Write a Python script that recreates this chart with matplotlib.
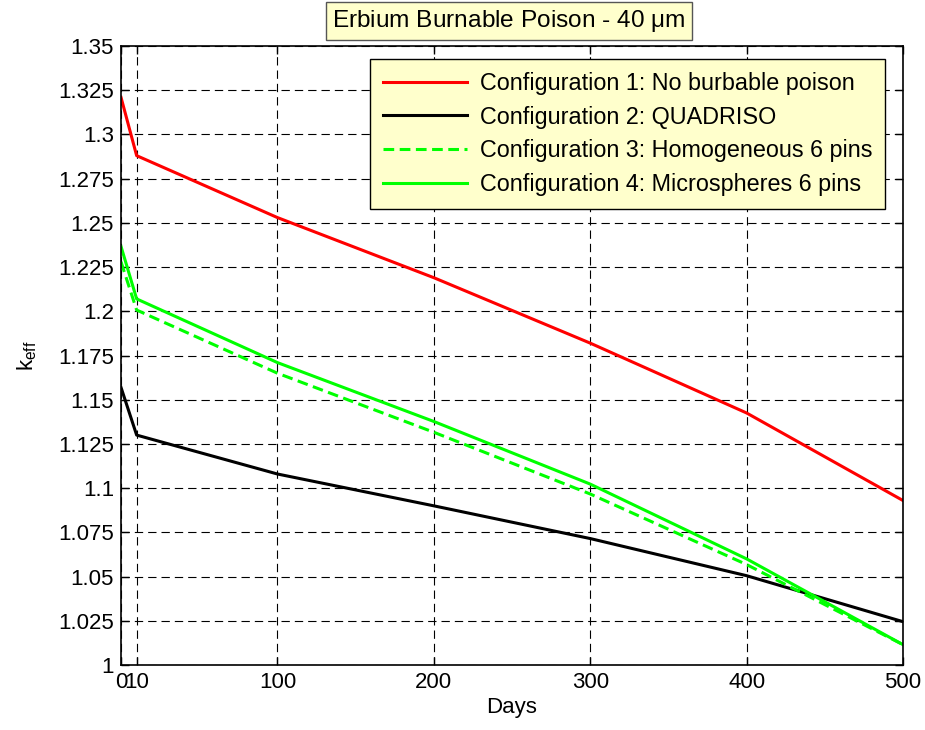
import matplotlib
matplotlib.use("Agg")
import matplotlib.pyplot as plt
from matplotlib.ticker import FixedLocator, FixedFormatter

plt.rcParams['font.family'] = ['Liberation Sans', 'DejaVu Sans']
plt.rcParams['mathtext.fontset'] = 'custom'
plt.rcParams['mathtext.rm'] = 'Liberation Sans'
plt.rcParams['mathtext.it'] = 'Liberation Sans'

days = [0, 10, 100, 200, 300, 400, 500]
config1 = [1.321, 1.288, 1.253, 1.219, 1.182, 1.1425, 1.093]
config2 = [1.157, 1.130, 1.108, 1.090, 1.0715, 1.0505, 1.0245]
config3 = [1.228, 1.2007, 1.165, 1.1316, 1.0967, 1.0568, 1.0115]
config4 = [1.2367, 1.207, 1.171, 1.1377, 1.1023, 1.060, 1.0115]

labels = ["Configuration 1: No burbable poison",
          "Configuration 2: QUADRISO",
          "Configuration 3: Homogeneous 6 pins",
          "Configuration 4: Microspheres 6 pins"]

xticks = [0, 10, 100, 200, 300, 400, 500]
xticklabels = ["0", "10", "100", "200", "300", "400", "500"]
yticks = [1, 1.025, 1.05, 1.075, 1.1, 1.125, 1.15, 1.175, 1.2, 1.225,
          1.25, 1.275, 1.3, 1.325, 1.35]
yticklabels = ["1", "1.025", "1.05", "1.075", "1.1", "1.125", "1.15", "1.175",
               "1.2", "1.225", "1.25", "1.275", "1.3", "1.325", "1.35"]

W, H = 925, 730
fig = plt.figure(figsize=(W / 100, H / 100), dpi=100)
ax = fig.add_axes([121 / W, 1 - 665 / H, (903 - 121) / W, (665 - 46) / H])

lw = 2.2
ax.plot(days, config1, color='#FF0000', lw=lw, label=labels[0])
ax.plot(days, config2, color='#000000', lw=lw, label=labels[1])
ax.plot(days, config3, color='#00FF00', lw=lw, linestyle=(0, (3.5, 1.8)), label=labels[2])
ax.plot(days, config4, color='#00FF00', lw=lw, label=labels[3])

ax.set_xlim(0, 500)
ax.set_ylim(1, 1.35)
ax.xaxis.set_major_locator(FixedLocator(xticks))
ax.xaxis.set_major_formatter(FixedFormatter(xticklabels))
ax.yaxis.set_major_locator(FixedLocator(yticks))
ax.yaxis.set_major_formatter(FixedFormatter(yticklabels))
ax.tick_params(direction='in', top=True, right=True, length=6, width=1,
               labelsize=16, pad=5)
ax.grid(True, color='black', linestyle=(0, (7.5, 4.5)), lw=0.8)
for s in ax.spines.values():
    s.set_linewidth(1.2)

ax.set_xlabel("Days", fontsize=16, labelpad=3)
ax.set_ylabel(r"k$_{\mathregular{eff}}$", fontsize=16, labelpad=14)

fig.text(509 / W, 1 - 21 / H, "Erbium Burnable Poison - 40 $\\mathregular{\\mu}$m",
         ha='center', va='center', fontsize=17.6,
         bbox=dict(boxstyle='square,pad=0.25', facecolor='#FFFFCC',
                   edgecolor='#555555', lw=1))

leg = ax.legend(loc='upper left', bbox_to_anchor=(370 / W, 1 - 59 / H),
                bbox_transform=fig.transFigure,
                fontsize=16.8, frameon=True, fancybox=False,
                facecolor='#FFFFCC', edgecolor='black', framealpha=1,
                handlelength=3.6, labelspacing=0.46,
                handletextpad=0.56, borderpad=0.55, borderaxespad=0)
leg.get_frame().set_linewidth(1)

fig.savefig("out.png", dpi=100)
